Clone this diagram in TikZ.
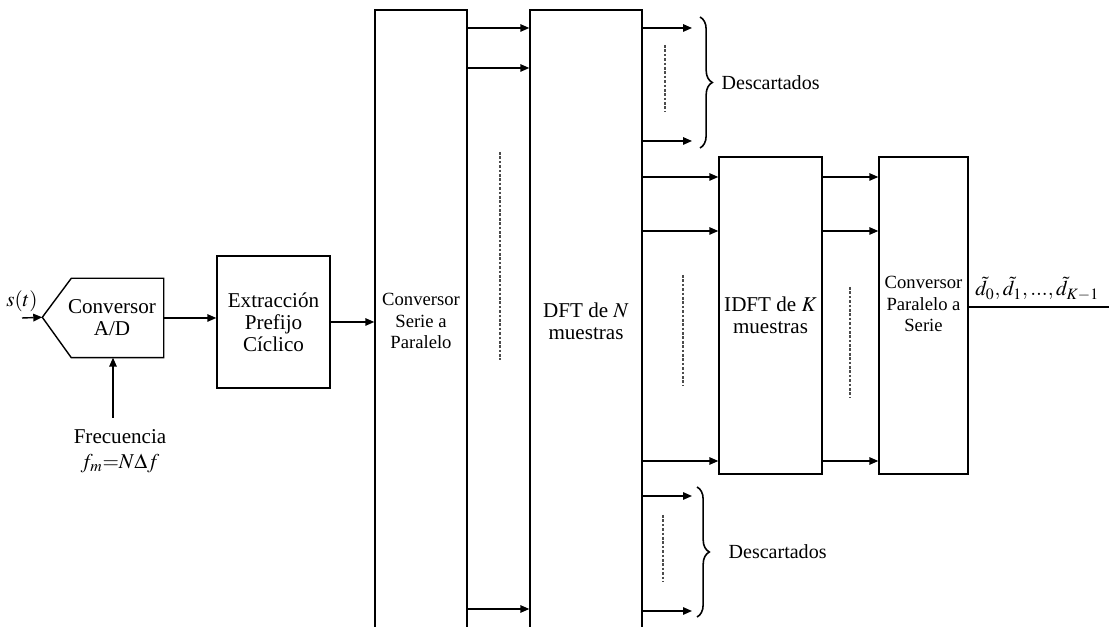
\documentclass[tikz,border=0pt]{standalone}
\usepackage{mathptmx}
\usepackage[no-math]{fontspec}
\setmainfont{Liberation Serif}
\usepackage{tikz}
\usetikzlibrary{arrows.meta,positioning,calc,decorations.pathreplacing}

\begin{document}
\begin{tikzpicture}[>={Triangle[length=1.8mm,width=1.5mm]}, line width=0.8pt,
  font=\fontsize{12}{12.5}\selectfont,
  blk/.style={draw,align=center,inner sep=0pt},
  small/.style={font=\fontsize{10.6}{12}\selectfont},
  dots/.style={dash pattern=on 1.5pt off 1pt,line width=1pt,black!70},
  br/.style={decorate,decoration={brace,amplitude=7pt},line width=0.9pt}]
  \useasboundingbox (0,0) rectangle (22.18,12.54);
  \clip (0,0) rectangle (22.18,12.54);

  % conversor A/D
  \node[inner sep=0pt,minimum width=1.82cm,minimum height=1.56cm,
    label={[align=center,xshift=-0.11cm,name=adctxt]center:Conversor\\A/D}] (adc) at (2.35,6.18) {};
  \draw (adc.north east) -- (adc.north west) -- ++(-0.58,-0.78) coordinate (adctip) -- (adc.south west) -- (adc.south east) -- cycle;
  \coordinate (sin) at (0.44,6.18);
  \node[above] (slbl) at (sin) {$s(t)$};
  \draw[->] (sin) -- (adctip);
  \coordinate (fin) at (2.26,4.18);
  \draw[->] (fin) -- (fin |- adc.south);
  \node[below,align=center,font=\fontsize{12}{14}\selectfont] (freq) at (2.4,4.08) {Frecuencia\\$f_m{=}N\Delta f$};

  % bloques
  \node[blk,minimum width=2.26cm,minimum height=2.64cm] (ext) at (5.47,6.1) {Extracción\\Prefijo\\Cíclico};
  \node[blk,small,minimum width=1.84cm,minimum height=12.44cm] (sp) at (8.42,6.12) {Conversor\\Serie a\\Paralelo};
  \node[blk,minimum width=2.24cm,minimum height=12.44cm] (dft) at (11.72,6.12) {DFT de $N$\\muestras};
  \node[blk,minimum width=2.06cm,minimum height=6.34cm] (idft) at (15.41,6.23) {IDFT de $K$\\muestras};
  \node[blk,minimum width=1.78cm,minimum height=6.34cm,
    label={[small,align=center,yshift=0.23cm,name=pstxt]center:Conversor\\Paralelo a\\Serie}] (ps) at (18.47,6.23) {};

  \draw[->] (adc.east) -- (adc.east -| ext.west);
  \draw[->] (ext) -- (ext -| sp.west);
  \foreach \y in {11.98,11.18,0.36} \draw[->] (sp.east |- 0,\y) -- (dft.west |- 0,\y);
  \foreach \y/\n in {11.98/t1,9.72/t2,2.62/b1,0.32/b2} {
    \coordinate (\n) at (13.84,\y);
    \draw[->] (dft.east |- \n) -- (\n);
  }
  \foreach \y in {9.0,7.92,3.32} {
    \draw[->] (dft.east |- 0,\y) -- (idft.west |- 0,\y);
    \draw[->] (idft.east |- 0,\y) -- (ps.west |- 0,\y);
  }

  % puntos suspensivos
  \draw[dots] (10.0,9.5) -- (10.0,5.34);
  \draw[dots] (13.3,11.64) -- (13.3,10.3);
  \draw[dots] (13.66,7.04) -- (13.66,4.82);
  \draw[dots] (17.0,6.8) -- (17.0,4.6);
  \draw[dots] (13.26,2.24) -- (13.26,0.9);

  % descartados
  \draw[br] (14.0,12.2) -- (14.0,9.58) node[midway,right=0.3cm,font=\fontsize{11.4}{13}\selectfont] (desc1) {Descartados};
  \draw[br] (13.94,2.8) -- (13.94,0.2) node[midway,right=0.5cm,font=\fontsize{11.4}{13}\selectfont] (desc2) {Descartados};

  % salida
  \coordinate (out) at (22.3,6.4);
  \draw (ps.east |- out) -- (out);
  \node[above right] (dlbl) at (ps.east |- out) {$\tilde d_0,\tilde d_1,...,\tilde d_{K-1}$};
\end{tikzpicture}
\end{document}
